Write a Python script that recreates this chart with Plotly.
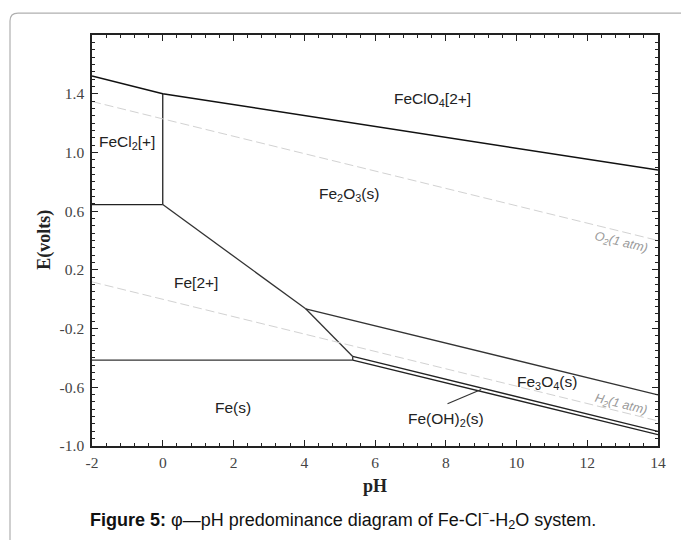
import plotly.graph_objects as go

# ---- data: boundary lines (pH, E) ----
feclo4_ph = [-2, 0, 14]
feclo4_e = [1.52, 1.40, 0.88]
fecl2_fe2o3_ph = [0, 0]
fecl2_fe2o3_e = [1.40, 0.645]
fecl2_fe2_ph = [-2, 0]
fecl2_fe2_e = [0.645, 0.645]
fe2_fe2o3_ph = [0, 4.04]
fe2_fe2o3_e = [0.645, -0.065]
fe2_fe3o4_ph = [4.04, 5.37]
fe2_fe3o4_e = [-0.065, -0.39]
fe2_fe_ph = [-2, 5.37]
fe2_fe_e = [-0.415, -0.415]
fe3o4_fe2o3_ph = [4.04, 14]
fe3o4_fe2o3_e = [-0.065, -0.652]
feoh2_edge_ph = [5.37, 5.37]
feoh2_edge_e = [-0.39, -0.415]
fe3o4_feoh2_ph = [5.37, 14]
fe3o4_feoh2_e = [-0.39, -0.90]
feoh2_fe_ph = [5.37, 14]
feoh2_fe_e = [-0.415, -0.922]
o2_ph = [-2, 14]
o2_e = [1.347, 0.40]
h2_ph = [-2, 14]
h2_e = [0.118, -0.829]
leader_ph = [9.0, 8.05]
leader_e = [-0.615, -0.712]

# labels
region_text = ["FeClO<sub>4</sub>[2+]", "FeCl<sub>2</sub>[+]", "Fe<sub>2</sub>O<sub>3</sub>(s)",
               "Fe[2+]", "Fe(s)", "Fe<sub>3</sub>O<sub>4</sub>(s)", "Fe(OH)<sub>2</sub>(s)"]
region_ph = [7.63, -1.02, 5.26, 0.93, 1.98, 10.87, 8.0]
region_e = [1.36, 1.07, 0.714, 0.112, -0.74, -0.57, -0.82]

gas_text = ["<i>O<sub>2</sub>(1 atm)</i>", "<i>H<sub>2</sub>(1 atm)</i>"]
gas_ph = [12.96, 12.96]
gas_e = [0.385, -0.723]

x_ticks = [-2, 0, 2, 4, 6, 8, 10, 12, 14]
y_ticks = [-1.0, -0.6, -0.2, 0.2, 0.6, 1.0, 1.4]

W, H = 681, 540
L, R, T, B = 92, 658, 35, 446.5

fig = go.Figure()

solid = [
    (feclo4_ph, feclo4_e, "#111111", 1.5),
    (fecl2_fe2o3_ph, fecl2_fe2o3_e, "#222222", 1.3),
    (fecl2_fe2_ph, fecl2_fe2_e, "#222222", 1.3),
    (fe2_fe2o3_ph, fe2_fe2o3_e, "#333333", 1.3),
    (fe2_fe3o4_ph, fe2_fe3o4_e, "#333333", 1.3),
    (fe2_fe_ph, fe2_fe_e, "#333333", 1.3),
    (fe3o4_fe2o3_ph, fe3o4_fe2o3_e, "#333333", 1.3),
    (feoh2_edge_ph, feoh2_edge_e, "#333333", 1.3),
    (fe3o4_feoh2_ph, fe3o4_feoh2_e, "#222222", 1.3),
    (feoh2_fe_ph, feoh2_fe_e, "#222222", 1.3),
    (leader_ph, leader_e, "#333333", 1.2),
]
for xs, ys, c, w in solid:
    fig.add_trace(go.Scatter(x=xs, y=ys, mode="lines", line=dict(color=c, width=w),
                             showlegend=False, hoverinfo="skip"))
for xs, ys in [(o2_ph, o2_e), (h2_ph, h2_e)]:
    fig.add_trace(go.Scatter(x=xs, y=ys, mode="lines",
                             line=dict(color="#d2d2d2", width=1, dash="9px,4px"),
                             showlegend=False, hoverinfo="skip"))

annotations = []
for t, x, y in zip(region_text, region_ph, region_e):
    annotations.append(dict(x=x, y=y, xref="x", yref="y", text=t, showarrow=False,
                            font=dict(family="Arial, Liberation Sans", size=15.5, color="#222222")))
for t, x, y in zip(gas_text, gas_ph, gas_e):
    annotations.append(dict(x=x, y=y, xref="x", yref="y", text=t, showarrow=False, textangle=13.8,
                            font=dict(family="Arial, Liberation Sans", size=12.5, color="#999999")))


def px(xp):
    return (xp - L) / (R - L)


def py(yp):
    return (B - yp) / (B - T)


annotations.append(dict(x=px(45), y=py(240), xref="paper", yref="paper", text="<b>E(volts)</b>",
                        textangle=-90, showarrow=False, xanchor="center", yanchor="middle",
                        font=dict(family="Times New Roman, Liberation Serif", size=18, color="#222222")))
annotations.append(dict(x=px(375), y=py(487), xref="paper", yref="paper", text="<b>pH</b>",
                        showarrow=False, xanchor="center", yanchor="middle",
                        font=dict(family="Times New Roman, Liberation Serif", size=18, color="#222222")))
annotations.append(dict(x=px(343), y=py(520), xref="paper", yref="paper",
                        text="<b>Figure 5:</b> φ—pH predominance diagram of Fe-Cl<sup>−</sup>-H<sub>2</sub>O system.",
                        showarrow=False, xanchor="center", yanchor="middle",
                        font=dict(family="Arial, Liberation Sans", size=18, color="#111111")))

# rounded frame around the figure
x0, y0, x1, y1, r = px(10), py(13), px(700), py(560), 8
rx, ry = r / (R - L), r / (B - T)
frame = (f"M {x0},{y1} L {x0},{y0 - ry} Q {x0},{y0} {x0 + rx},{y0} L {x1},{y0}")

tickfont = dict(family="Times New Roman, Liberation Serif", size=15.5, color="#444444")
fig.update_layout(
    width=W, height=H,
    margin=dict(l=L, r=W - R, t=T, b=H - B),
    paper_bgcolor="white", plot_bgcolor="white",
    annotations=annotations,
    shapes=[dict(type="path", path=frame, xref="paper", yref="paper",
                 line=dict(color="#b0b0b0", width=1.2), layer="below")],
    xaxis=dict(range=[-2, 14], tickmode="array", tickvals=x_ticks,
               ticktext=[str(v) for v in x_ticks],
               ticks="inside", ticklen=6, tickwidth=1, tickcolor="#222",
               minor=dict(tickmode="linear", tick0=-2, dtick=0.4, ticks="inside", ticklen=3,
                          tickcolor="#222", showgrid=False),
               showline=True, linecolor="#222", linewidth=1.5, mirror="ticks",
               showgrid=False, zeroline=False, tickfont=tickfont, ticklabelstandoff=2),
    yaxis=dict(range=[-1.0, 1.8], tickmode="array", tickvals=y_ticks,
               ticktext=[f"{v:.1f}" for v in y_ticks],
               ticks="inside", ticklen=6, tickwidth=1, tickcolor="#222",
               minor=dict(tickmode="linear", tick0=-1.0, dtick=0.05, ticks="inside", ticklen=3,
                          tickcolor="#222", showgrid=False),
               showline=True, linecolor="#222", linewidth=1.5, mirror="ticks",
               showgrid=False, zeroline=False, tickfont=tickfont, ticklabelstandoff=3),
)

fig.write_html("out.html")
